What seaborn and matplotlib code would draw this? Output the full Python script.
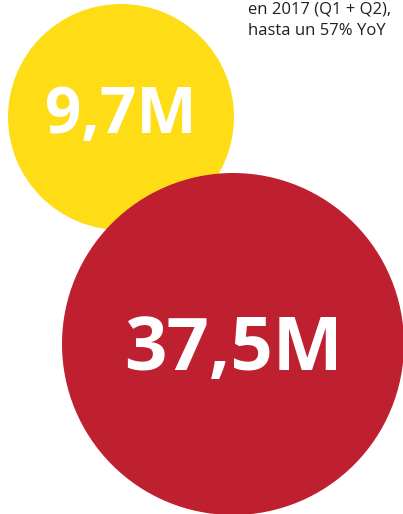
import matplotlib
matplotlib.use("Agg")
import matplotlib.pyplot as plt
import seaborn as sns
import pandas as pd

labels = ["9,7M", "37,5M"]
values = [9.7, 37.5]
colors = ["#FEDD17", "#BE202F"]
note_lines = ["en 2017 (Q1 + Q2),", "hasta un 57% YoY"]

# layout (pixels in a 403x514 canvas)
cx = [121, 233]
cy = [117, 344]
diam_px = [226, 342]
font_pt = [46, 53.5]
text_baseline = [133, 370]

sns.set_theme(style="white")
plt.rcParams['font.family'] = ['Open Sans', 'DejaVu Sans']

fig = plt.figure(figsize=(4.03, 5.14), dpi=100)
ax = fig.add_axes([0, 0, 1, 1])
df = pd.DataFrame({"x": cx, "y": cy, "label": labels, "value": values})
sizes = {lab: (d * 72 / 100) ** 2 for lab, d in zip(labels, diam_px)}
sns.scatterplot(data=df, x="x", y="y", hue="label", size="label",
                sizes=sizes, palette=dict(zip(labels, colors)),
                linewidth=0, legend=False, ax=ax, clip_on=False)
for x, yb, lab, fs in zip(cx, text_baseline, labels, font_pt):
    ax.text(x, yb, lab, color="white", fontsize=fs, fontweight="bold",
            ha="center", va="baseline")
ax.text(248, 13, note_lines[0], fontsize=12, color="#231F20", va="baseline")
ax.text(248, 35, note_lines[1], fontsize=12, color="#231F20", va="baseline")
ax.set_xlim(0, 403)
ax.set_ylim(514, 0)
ax.set_axis_off()
fig.savefig("out.png", dpi=100)
